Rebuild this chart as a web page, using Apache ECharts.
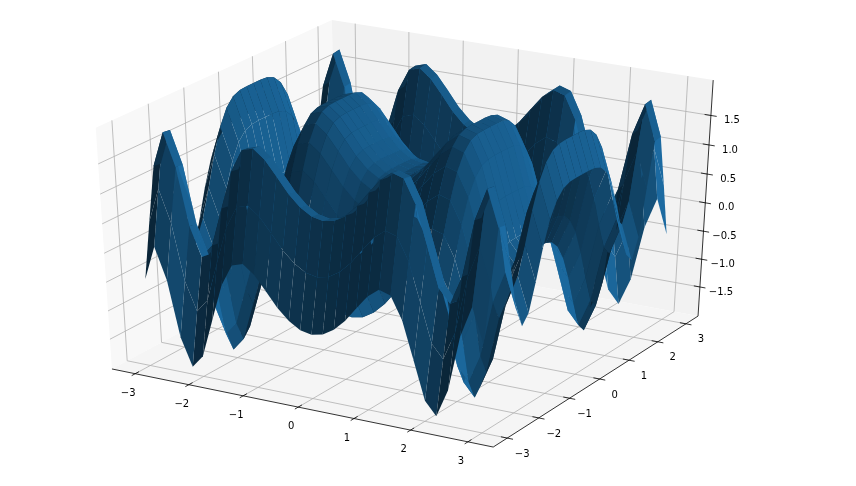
<!DOCTYPE html>
<html><head><meta charset="utf-8">
<style>html,body{margin:0;padding:0;background:#fff}#c{width:856px;height:486px}</style>
<script src="https://cdn.jsdelivr.net/npm/echarts@6/dist/echarts.min.js"></script>
</head><body><div id="c"></div>
<script>
const xValues=[-3,-2.8,-2.6,-2.4,-2.2,-2,-1.8,-1.6,-1.4,-1.2,-1,-0.8,-0.6,-0.4,-0.2,0,0.2,0.4,0.6,0.8,1,1.2,1.4,1.6,1.8,2,2.2,2.4,2.6,2.8,3];
const yValues=[-3,-2.8,-2.6,-2.4,-2.2,-2,-1.8,-1.6,-1.4,-1.2,-1,-0.8,-0.6,-0.4,-0.2,0,0.2,0.4,0.6,0.8,1,1.2,1.4,1.6,1.8,2,2.2,2.4,2.6,2.8,3];
const zRows=[
[-.50,.09,-.45,-1.41,-1.90,-1.67,-1.01,-.36,.02,.08,-.07,-.31,-.56,-.75,-.87,-.91,-.87,-.75,-.56,-.31,-.07,.08,.02,-.36,-1.01,-1.67,-1.90,-1.41,-.45,.09,-.50],
[.42,1.01,.47,-.49,-.98,-.75,-.09,.56,.94,1.00,.85,.61,.36,.17,.05,.01,.05,.17,.36,.61,.85,1.00,.94,.56,-.09,-.75,-.98,-.49,.47,1.01,.42],
[1.30,1.89,1.35,.39,-.10,.13,.79,1.44,1.82,1.88,1.73,1.49,1.24,1.05,.93,.89,.93,1.05,1.24,1.49,1.73,1.88,1.82,1.44,.79,.13,-.10,.39,1.35,1.89,1.30],
[1.28,1.87,1.33,.37,-.12,.11,.77,1.42,1.80,1.86,1.71,1.47,1.22,1.03,.91,.87,.91,1.03,1.22,1.47,1.71,1.86,1.80,1.42,.77,.11,-.12,.37,1.33,1.87,1.28],
[.54,1.13,.59,-.37,-.86,-.63,.03,.68,1.06,1.12,.97,.73,.48,.29,.17,.13,.17,.29,.48,.73,.97,1.12,1.06,.68,.03,-.63,-.86,-.37,.59,1.13,.54],
[-.24,.35,-.19,-1.15,-1.64,-1.41,-.75,-.10,.28,.34,.19,-.05,-.30,-.49,-.61,-.65,-.61,-.49,-.30,-.05,.19,.34,.28,-.10,-.75,-1.41,-1.64,-1.15,-.19,.35,-.24],
[-.59,0,-.54,-1.50,-1.99,-1.76,-1.10,-.45,-.07,-.01,-.16,-.40,-.65,-.84,-.96,-1.00,-.96,-.84,-.65,-.40,-.16,-.01,-.07,-.45,-1.10,-1.76,-1.99,-1.50,-.54,0,-.59],
[-.43,.16,-.38,-1.34,-1.83,-1.60,-.94,-.29,.09,.15,0,-.24,-.49,-.68,-.80,-.84,-.80,-.68,-.49,-.24,0,.15,.09,-.29,-.94,-1.60,-1.83,-1.34,-.38,.16,-.43],
[.03,.62,.08,-.88,-1.37,-1.14,-.48,.17,.55,.61,.46,.22,-.03,-.22,-.34,-.38,-.34,-.22,-.03,.22,.46,.61,.55,.17,-.48,-1.14,-1.37,-.88,.08,.62,.03],
[.54,1.13,.59,-.37,-.86,-.63,.03,.68,1.06,1.12,.97,.73,.48,.29,.17,.13,.17,.29,.48,.73,.97,1.12,1.06,.68,.03,-.63,-.86,-.37,.59,1.13,.54],
[.95,1.54,1.00,.04,-.45,-.22,.44,1.09,1.47,1.53,1.38,1.14,.89,.70,.58,.54,.58,.70,.89,1.14,1.38,1.53,1.47,1.09,.44,-.22,-.45,.04,1.00,1.54,.95],
[1.21,1.80,1.26,.30,-.19,.04,.70,1.35,1.73,1.79,1.64,1.40,1.15,.96,.84,.80,.84,.96,1.15,1.40,1.64,1.79,1.73,1.35,.70,.04,-.19,.30,1.26,1.80,1.21],
[1.35,1.94,1.40,.44,-.05,.18,.84,1.49,1.87,1.93,1.78,1.54,1.29,1.10,.98,.94,.98,1.10,1.29,1.54,1.78,1.93,1.87,1.49,.84,.18,-.05,.44,1.40,1.94,1.35],
[1.40,1.99,1.45,.49,0,.23,.89,1.54,1.92,1.98,1.83,1.59,1.34,1.15,1.03,.99,1.03,1.15,1.34,1.59,1.83,1.98,1.92,1.54,.89,.23,0,.49,1.45,1.99,1.40],
[1.41,2.00,1.46,.50,.01,.24,.90,1.55,1.93,1.99,1.84,1.60,1.35,1.16,1.04,1.00,1.04,1.16,1.35,1.60,1.84,1.99,1.93,1.55,.90,.24,.01,.50,1.46,2.00,1.41],
[1.41,2.00,1.46,.50,.01,.24,.90,1.55,1.93,1.99,1.84,1.60,1.35,1.16,1.04,1.00,1.04,1.16,1.35,1.60,1.84,1.99,1.93,1.55,.90,.24,.01,.50,1.46,2.00,1.41],
[1.41,2.00,1.46,.50,.01,.24,.90,1.55,1.93,1.99,1.84,1.60,1.35,1.16,1.04,1.00,1.04,1.16,1.35,1.60,1.84,1.99,1.93,1.55,.90,.24,.01,.50,1.46,2.00,1.41],
[1.40,1.99,1.45,.49,0,.23,.89,1.54,1.92,1.98,1.83,1.59,1.34,1.15,1.03,.99,1.03,1.15,1.34,1.59,1.83,1.98,1.92,1.54,.89,.23,0,.49,1.45,1.99,1.40],
[1.35,1.94,1.40,.44,-.05,.18,.84,1.49,1.87,1.93,1.78,1.54,1.29,1.10,.98,.94,.98,1.10,1.29,1.54,1.78,1.93,1.87,1.49,.84,.18,-.05,.44,1.40,1.94,1.35],
[1.21,1.80,1.26,.30,-.19,.04,.70,1.35,1.73,1.79,1.64,1.40,1.15,.96,.84,.80,.84,.96,1.15,1.40,1.64,1.79,1.73,1.35,.70,.04,-.19,.30,1.26,1.80,1.21],
[.95,1.54,1.00,.04,-.45,-.22,.44,1.09,1.47,1.53,1.38,1.14,.89,.70,.58,.54,.58,.70,.89,1.14,1.38,1.53,1.47,1.09,.44,-.22,-.45,.04,1.00,1.54,.95],
[.54,1.13,.59,-.37,-.86,-.63,.03,.68,1.06,1.12,.97,.73,.48,.29,.17,.13,.17,.29,.48,.73,.97,1.12,1.06,.68,.03,-.63,-.86,-.37,.59,1.13,.54],
[.03,.62,.08,-.88,-1.37,-1.14,-.48,.17,.55,.61,.46,.22,-.03,-.22,-.34,-.38,-.34,-.22,-.03,.22,.46,.61,.55,.17,-.48,-1.14,-1.37,-.88,.08,.62,.03],
[-.43,.16,-.38,-1.34,-1.83,-1.60,-.94,-.29,.09,.15,0,-.24,-.49,-.68,-.80,-.84,-.80,-.68,-.49,-.24,0,.15,.09,-.29,-.94,-1.60,-1.83,-1.34,-.38,.16,-.43],
[-.59,0,-.54,-1.50,-1.99,-1.76,-1.10,-.45,-.07,-.01,-.16,-.40,-.65,-.84,-.96,-1.00,-.96,-.84,-.65,-.40,-.16,-.01,-.07,-.45,-1.10,-1.76,-1.99,-1.50,-.54,0,-.59],
[-.24,.35,-.19,-1.15,-1.64,-1.41,-.75,-.10,.28,.34,.19,-.05,-.30,-.49,-.61,-.65,-.61,-.49,-.30,-.05,.19,.34,.28,-.10,-.75,-1.41,-1.64,-1.15,-.19,.35,-.24],
[.54,1.13,.59,-.37,-.86,-.63,.03,.68,1.06,1.12,.97,.73,.48,.29,.17,.13,.17,.29,.48,.73,.97,1.12,1.06,.68,.03,-.63,-.86,-.37,.59,1.13,.54],
[1.28,1.87,1.33,.37,-.12,.11,.77,1.42,1.80,1.86,1.71,1.47,1.22,1.03,.91,.87,.91,1.03,1.22,1.47,1.71,1.86,1.80,1.42,.77,.11,-.12,.37,1.33,1.87,1.28],
[1.30,1.89,1.35,.39,-.10,.13,.79,1.44,1.82,1.88,1.73,1.49,1.24,1.05,.93,.89,.93,1.05,1.24,1.49,1.73,1.88,1.82,1.44,.79,.13,-.10,.39,1.35,1.89,1.30],
[.42,1.01,.47,-.49,-.98,-.75,-.09,.56,.94,1.00,.85,.61,.36,.17,.05,.01,.05,.17,.36,.61,.85,1.00,.94,.56,-.09,-.75,-.98,-.49,.47,1.01,.42],
[-.50,.09,-.45,-1.41,-1.90,-1.67,-1.01,-.36,.02,.08,-.07,-.31,-.56,-.75,-.87,-.91,-.87,-.75,-.56,-.31,-.07,.08,.02,-.36,-1.01,-1.67,-1.90,-1.41,-.45,.09,-.50]
];
const xTicks=[-3,-2,-1,0,1,2,3];
const yTicks=[-3,-2,-1,0,1,2,3];
const zTicks=[-1.5,-1,-0.5,0,0.5,1,1.5];
const xTickLabels=['\u22123','\u22122','\u22121','0','1','2','3'];
const yTickLabels=['\u22123','\u22122','\u22121','0','1','2','3'];
const zTickLabels=['\u22121.5','\u22121.0','\u22120.5','0.0','0.5','1.0','1.5'];

// view: elevation 30, azimuth -60, eye distance 10
const U=[0.866025,0.5,0],V=[-0.25,0.433013,0.866025],N=[0.433013,-0.75,0.5],DIST=10;
const XR=6.6,ZR=3.96,ZC=0.03;           // axis ranges
const XB=3.4375,ZLO=-2.032,ZHI=2.092;   // pane box in data units
function depth(x,y,z){const q=[x/XR,y/XR,(z-ZC)/ZR];return q[0]*N[0]+q[1]*N[1]+q[2]*N[2]-DIST;}
function proj(x,y,z){
  const q=[x/XR,y/XR,(z-ZC)/ZR];
  const w=-(q[0]*N[0]+q[1]*N[1]+q[2]*N[2]-DIST);
  return [(q[0]*U[0]+q[1]*U[1])/w,(q[0]*V[0]+q[1]*V[1]+q[2]*V[2])/w];
}
// surface cells, far to near
let cells=[];
let smin=9,smax=-9;
for(let j=0;j<yValues.length-1;j++)for(let i=0;i<xValues.length-1;i++){
  const P=(a,b)=>[xValues[a],yValues[b],zRows[b][a]];
  const c=[P(i,j),P(i+1,j),P(i+1,j+1),P(i,j+1)];
  // face normal from the first three corners of the cell
  const a=[c[0][0]-c[1][0],c[0][1]-c[1][1],c[0][2]-c[1][2]];
  const b=[c[1][0]-c[2][0],c[1][1]-c[2][1],c[1][2]-c[2][2]];
  let n=[a[1]*b[2]-a[2]*b[1],a[2]*b[0]-a[0]*b[2],a[0]*b[1]-a[1]*b[0]];
  const m=Math.hypot(n[0],n[1],n[2]);n=n.map(v=>v/m);
  const s=0.6667*n[0]+0.6667*n[1]+0.12*n[2];
  smin=Math.min(smin,s);smax=Math.max(smax,s);
  const d=c.reduce((t,p)=>t+10/depth(p[0],p[1],p[2]),0)/4;
  cells.push({i,j,s,d});
}
cells.sort((p,q)=>q.d-p.d);
const LOW=0.3,HIGH=0.9;
function faceColor(s){
  const k=LOW+(HIGH-LOW)*(s-smin)/(smax-smin);
  return 'rgb('+[31,119,180].map(v=>Math.round(v*k)).join(',')+')';
}
const surfaceData=cells.map(c=>[c.i,c.j,c.s]);

// panes
const paneDefs=[
 {fill:'#f8f8f8',pts:[[-XB,-XB,ZLO],[-XB,XB,ZLO],[-XB,XB,ZHI],[-XB,-XB,ZHI]]},
 {fill:'#f2f2f2',pts:[[-XB,XB,ZLO],[XB,XB,ZLO],[XB,XB,ZHI],[-XB,XB,ZHI]]},
 {fill:'#f5f5f5',pts:[[-XB,-XB,ZLO],[XB,-XB,ZLO],[XB,XB,ZLO],[-XB,XB,ZLO]]}
];
// grid lines: polylines over floor and walls
const gridPaths=[];
xTicks.forEach(t=>gridPaths.push([[t,-XB,ZLO],[t,XB,ZLO],[t,XB,ZHI]]));
yTicks.forEach(t=>gridPaths.push([[XB,t,ZLO],[-XB,t,ZLO],[-XB,t,ZHI]]));
zTicks.forEach(t=>gridPaths.push([[-XB,-XB,t],[-XB,XB,t],[XB,XB,t]]));
// axis lines and tick marks
const TI=0.11,TO=0.10;
const blackLines=[
 [[-XB,-XB,ZLO],[XB,-XB,ZLO]],[[XB,-XB,ZLO],[XB,XB,ZLO]],[[XB,XB,ZLO],[XB,XB,ZHI]]
];
xTicks.forEach(t=>blackLines.push([[t,-XB+TI,ZLO],[t,-XB-TO,ZLO]]));
yTicks.forEach(t=>blackLines.push([[XB-TI,t,ZLO],[XB+TO,t,ZLO]]));
zTicks.forEach(t=>blackLines.push([[XB-TI,XB,t],[XB+TO,XB,t]]));
// labels
const labels=[];
xTicks.forEach((t,k)=>labels.push({p:[t,-XB,ZLO],dx:-7,dy:19.5,text:xTickLabels[k]}));
yTicks.forEach((t,k)=>labels.push({p:[XB,t,ZLO],dx:15,dy:16,text:yTickLabels[k]}));
zTicks.forEach((t,k)=>labels.push({p:[XB,XB,t],dx:21,dy:5,text:zTickLabels[k]}));

const chart=echarts.init(document.getElementById('c'),null,{renderer:'canvas'});
const coord=(api,p)=>api.coord(proj(p[0],p[1],p[2]));
function custom(data,z,fn){return {type:'custom',coordinateSystem:'cartesian2d',silent:true,clip:false,animation:false,z,data,renderItem:fn};}
const idx=a=>a.map((_,k)=>[k,0]);
chart.setOption({
 animation:false,
 backgroundColor:'#fff',
 grid:{left:0,right:0,top:0,bottom:0},
 xAxis:{type:'value',min:-0.09697,max:0.10563,show:false},
 yAxis:{type:'value',min:-0.09838,max:0.08544,show:false},
 series:[
  custom(idx(paneDefs),1,(p,api)=>({type:'polygon',shape:{points:paneDefs[p.dataIndex].pts.map(q=>coord(api,q))},style:{fill:paneDefs[p.dataIndex].fill}})),
  custom(idx(gridPaths),2,(p,api)=>({type:'polyline',shape:{points:gridPaths[p.dataIndex].map(q=>coord(api,q))},style:{stroke:'#b0b0b0',lineWidth:0.8,fill:null}})),
  custom(idx(blackLines),3,(p,api)=>{const l=blackLines[p.dataIndex],a=coord(api,l[0]),b=coord(api,l[1]);return {type:'line',shape:{x1:a[0],y1:a[1],x2:b[0],y2:b[1]},style:{stroke:'#000',lineWidth:0.8}};}),
  custom(surfaceData,4,(p,api)=>{
    const i=api.value(0),j=api.value(1),s=api.value(2);
    const pt=(a,b)=>coord(api,[xValues[a],yValues[b],zRows[b][a]]);
    return {type:'polygon',shape:{points:[pt(i,j),pt(i+1,j),pt(i+1,j+1),pt(i,j+1)]},style:{fill:faceColor(s)}};
  }),
  custom(idx(labels),5,(p,api)=>{const l=labels[p.dataIndex],a=coord(api,l.p);return {type:'text',style:{x:a[0]+l.dx,y:a[1]+l.dy,text:l.text,fill:'#000',font:'10px "DejaVu Sans"',align:'center',verticalAlign:'middle'}};})
 ]
});
</script></body></html>
